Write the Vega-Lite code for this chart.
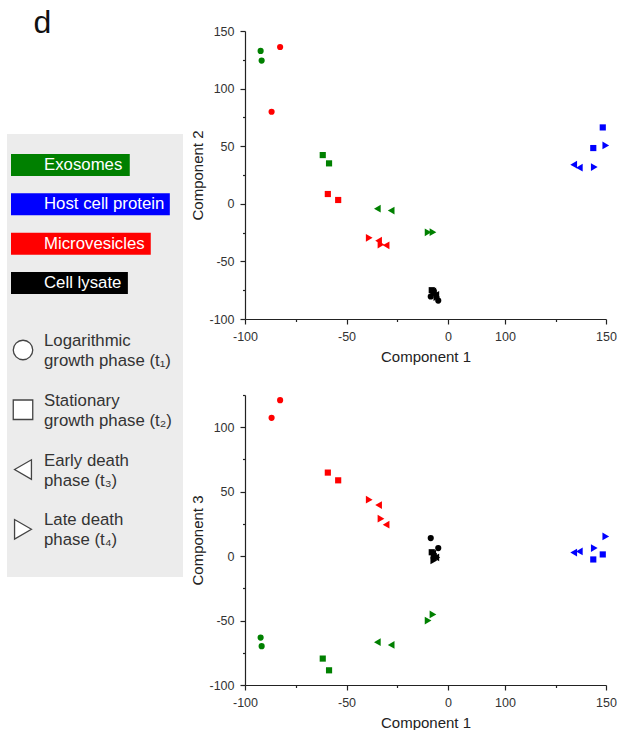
{
  "$schema": "https://vega.github.io/schema/vega-lite/v6.json",
  "background": "white",
  "padding": {"left": 7, "top": 0, "right": 0, "bottom": 0},
  "bounds": "flush",
  "spacing": 15,
  "config": {
    "view": {"stroke": null},
    "font": "Liberation Sans",
    "axis": {
      "domainColor": "#222",
      "tickColor": "#222",
      "labelColor": "#333",
      "titleColor": "#222",
      "labelFont": "Liberation Sans",
      "titleFont": "Liberation Sans",
      "labelFontSize": 12.5,
      "titleFontSize": 15,
      "titleFontWeight": "normal",
      "grid": false,
      "domainWidth": 1.2,
      "tickWidth": 1.2,
      "labelOverlap": false,
      "labelFlush": false,
      "labelPadding": 6
    }
  },
  "datasets": {
    "samples": [
      {"group": "Exosomes", "phase": "t1", "c1": -92.3, "c2": 132.7, "c3": -63.2},
      {"group": "Exosomes", "phase": "t1", "c1": -91.8, "c2": 124.3, "c3": -69.9},
      {"group": "Exosomes", "phase": "t2", "c1": -61.7, "c2": 42.3, "c3": -79.5},
      {"group": "Exosomes", "phase": "t2", "c1": -58.6, "c2": 35.1, "c3": -88.6},
      {"group": "Exosomes", "phase": "t3", "c1": -34.8, "c2": -4.2, "c3": -66.8},
      {"group": "Exosomes", "phase": "t3", "c1": -28.0, "c2": -5.9, "c3": -68.9},
      {"group": "Exosomes", "phase": "t4", "c1": -9.8, "c2": -24.7, "c3": -50.0},
      {"group": "Exosomes", "phase": "t4", "c1": -7.4, "c2": -24.6, "c3": -45.3},
      {"group": "Microvesicles", "phase": "t1", "c1": -82.7, "c2": 136.1, "c3": 121.0},
      {"group": "Microvesicles", "phase": "t1", "c1": -86.9, "c2": 79.9, "c3": 107.3},
      {"group": "Microvesicles", "phase": "t2", "c1": -59.2, "c2": 8.5, "c3": 64.8},
      {"group": "Microvesicles", "phase": "t2", "c1": -54.1, "c2": 3.3, "c3": 58.8},
      {"group": "Microvesicles", "phase": "t3", "c1": -34.2, "c2": -32.0, "c3": 39.6},
      {"group": "Microvesicles", "phase": "t3", "c1": -30.5, "c2": -36.0, "c3": 24.4},
      {"group": "Microvesicles", "phase": "t4", "c1": -38.8, "c2": -29.5, "c3": 43.8},
      {"group": "Microvesicles", "phase": "t4", "c1": -33.0, "c2": -35.4, "c3": 29.0},
      {"group": "Host cell protein", "phase": "t2", "c1": 148.4, "c2": 66.3, "c3": 1.3},
      {"group": "Host cell protein", "phase": "t2", "c1": 143.7, "c2": 48.4, "c3": -2.6},
      {"group": "Host cell protein", "phase": "t3", "c1": 134.0, "c2": 33.9, "c3": 2.8},
      {"group": "Host cell protein", "phase": "t3", "c1": 136.8, "c2": 31.4, "c3": 3.6},
      {"group": "Host cell protein", "phase": "t4", "c1": 149.9, "c2": 50.7, "c3": 15.3},
      {"group": "Host cell protein", "phase": "t4", "c1": 144.2, "c2": 31.9, "c3": 6.2},
      {"group": "Cell lysate", "phase": "t1", "c1": -8.5, "c2": -80.5, "c3": 14.0},
      {"group": "Cell lysate", "phase": "t1", "c1": -4.8, "c2": -84.0, "c3": 6.2},
      {"group": "Cell lysate", "phase": "t2", "c1": -8.0, "c2": -75.0, "c3": 3.0},
      {"group": "Cell lysate", "phase": "t2", "c1": -7.0, "c2": -77.0, "c3": 0.0},
      {"group": "Cell lysate", "phase": "t3", "c1": -7.5, "c2": -76.0, "c3": 2.0},
      {"group": "Cell lysate", "phase": "t3", "c1": -6.0, "c2": -79.0, "c3": -1.0},
      {"group": "Cell lysate", "phase": "t4", "c1": -7.0, "c2": -78.0, "c3": -3.4},
      {"group": "Cell lysate", "phase": "t4", "c1": -5.5, "c2": -81.0, "c3": -1.0}
    ],
    "colorItems": [
      {"label": "Exosomes"},
      {"label": "Host cell protein"},
      {"label": "Microvesicles"},
      {"label": "Cell lysate"}
    ],
    "phaseItems": [
      {"phase": "t1", "text": "Logarithmic\ngrowth phase (t₁)"},
      {"phase": "t2", "text": "Stationary\ngrowth phase (t₂)"},
      {"phase": "t3", "text": "Early death\nphase (t₃)"},
      {"phase": "t4", "text": "Late death\nphase (t₄)"}
    ],
    "breaks": [{"sym": "//"}],
    "panel": [{"name": "d"}]
  },
  "vconcat": [
    {
      "width": 71,
      "height": 16,
      "data": {"name": "panel"},
      "mark": {"type": "text", "fontSize": 32, "color": "#111", "align": "center", "baseline": "top", "font": "Liberation Sans"},
      "encoding": {"text": {"field": "name"}}
    },
    {
      "spacing": 7,
      "hconcat": [
        {
          "spacing": 0,
          "vconcat": [
            {
              "width": 176,
              "height": 103,
              "data": {"values": [{"sym": ""}]},
              "mark": {"type": "text"},
              "encoding": {"text": {"field": "sym"}}
            },
            {
              "width": 176,
              "height": 180,
              "view": {"fill": "#ececec", "stroke": null},
              "data": {"name": "colorItems"},
              "layer": [
                {
                  "transform": [
                    {
                      "calculate": "43 + 16.8*(0.556*length(datum.label) - 0.31*(length(datum.label)-length(replace(datum.label, regexp('[iltjf ]','g'), ''))) - 0.22*(length(datum.label)-length(replace(datum.label, regexp('r','g'), ''))) - 0.05*(length(datum.label)-length(replace(datum.label, regexp('[svxyckz]','g'), ''))) + 0.17*(length(datum.label)-length(replace(datum.label, regexp('[A-HJ-Z]','g'), ''))) + 0.28*(length(datum.label)-length(replace(datum.label, regexp('[mw]','g'), ''))))",
                      "as": "boxEnd"
                    }
                  ],
                  "mark": {"type": "rect"},
                  "encoding": {
                    "x": {"field": "boxEnd", "type": "quantitative", "scale": {"domain": [0, 176], "nice": false, "zero": false}, "axis": null},
                    "x2": {"datum": 4},
                    "color": {"field": "label", "type": "nominal", "legend": null,
                              "scale": {"domain": ["Exosomes", "Host cell protein", "Microvesicles", "Cell lysate"], "range": ["#008000", "#0000ff", "#ff0000", "#000000"]}}
                  }
                },
                {
                  "mark": {"type": "text", "align": "left", "baseline": "middle", "fontSize": 16.8, "color": "white", "font": "Liberation Sans"},
                  "encoding": {
                    "x": {"datum": 37, "type": "quantitative"},
                    "text": {"field": "label"}
                  }
                }
              ],
              "encoding": {
                "y": {"field": "label", "type": "nominal", "sort": null, "axis": null,
                      "scale": {"type": "band", "domain": ["Exosomes", "Host cell protein", "Microvesicles", "Cell lysate"], "paddingInner": 0.44, "paddingOuter": 0.51}}
              }
            },
            {
              "width": 176,
              "height": 263,
              "view": {"fill": "#ececec", "stroke": null},
              "data": {"name": "phaseItems"},
              "layer": [
                {
                  "mark": {"type": "point", "filled": true, "fill": "white", "stroke": "#444", "strokeWidth": 1.3, "opacity": 1, "size": 380},
                  "encoding": {
                    "x": {"datum": 16, "type": "quantitative", "scale": {"domain": [0, 176], "nice": false, "zero": false}, "axis": null},
                    "shape": {"field": "phase", "type": "nominal", "legend": null,
                              "scale": {"domain": ["t1", "t2", "t3", "t4"], "range": ["circle", "square", "triangle-left", "triangle-right"]}}
                  }
                },
                {
                  "mark": {"type": "text", "align": "left", "baseline": "bottom", "fontSize": 16.8, "color": "#333", "lineBreak": "\n", "lineHeight": 20, "font": "Liberation Sans"},
                  "encoding": {
                    "x": {"datum": 37, "type": "quantitative"},
                    "text": {"field": "text"}
                  }
                }
              ],
              "encoding": {
                "y": {"field": "phase", "type": "nominal", "sort": null, "axis": null,
                      "scale": {"type": "point", "domain": ["t1", "t2", "t3", "t4"], "padding": 0.7, "align": 0.43}}
              }
            }
          ]
        },
        {
          "spacing": 24,
          "vconcat": [
            {
              "width": 361,
              "height": 288,
              "data": {"name": "samples"},
              "layer": [
                {
                  "transform": [{"filter": "datum.phase === 't1' || datum.phase === 't2'"}],
                  "mark": {"type": "point", "filled": true, "opacity": 1, "size": 38}
                },
                {
                  "transform": [{"filter": "datum.phase === 't3' || datum.phase === 't4'"}],
                  "mark": {"type": "point", "filled": true, "opacity": 1, "size": 60}
                },
                {
                  "data": {"name": "breaks"},
                  "mark": {"type": "text", "fontSize": 15, "color": "#222", "align": "center", "baseline": "middle"},
                  "encoding": {
                    "x": {"datum": 93, "type": "quantitative"},
                    "y": {"datum": -100, "type": "quantitative"},
                    "text": {"field": "sym"},
                    "color": null,
                    "shape": null
                  }
                }
              ],
              "encoding": {
                "x": {"field": "c1", "type": "quantitative",
                      "scale": {"domain": [-100, 0, 100, 150], "range": [0, 203, 260, 361], "nice": false, "zero": false},
                      "axis": {"title": "Component 1", "values": [-100, -75, -50, -25, 0, 100, 125, 150],
                               "labelExpr": "datum.value % 50 === 0 ? '' + datum.value : ''",
                               "tickSize": {"condition": {"test": "datum.value % 50 === 0", "value": 5}, "value": 2.5},
                               "titlePadding": 7}},
                "y": {"field": "c2", "type": "quantitative",
                      "scale": {"domain": [-100, 150], "nice": false, "zero": false},
                      "axis": {"title": "Component 2", "values": [-100, -75, -50, -25, 0, 25, 50, 75, 100, 125, 150],
                               "labelExpr": "datum.value % 50 === 0 ? '' + datum.value : ''",
                               "tickSize": {"condition": {"test": "datum.value % 50 === 0", "value": 5}, "value": 2.5},
                               "titlePadding": 3}},
                "color": {"field": "group", "type": "nominal", "legend": null,
                          "scale": {"domain": ["Exosomes", "Host cell protein", "Microvesicles", "Cell lysate"], "range": ["#008000", "#0000ff", "#ff0000", "#000000"]}},
                "shape": {"field": "phase", "type": "nominal", "legend": null,
                          "scale": {"domain": ["t1", "t2", "t3", "t4"], "range": ["circle", "square", "triangle-left", "triangle-right"]}}
              }
            },
            {
              "width": 361,
              "height": 290,
              "data": {"name": "samples"},
              "layer": [
                {
                  "transform": [{"filter": "datum.phase === 't1' || datum.phase === 't2'"}],
                  "mark": {"type": "point", "filled": true, "opacity": 1, "size": 38}
                },
                {
                  "transform": [{"filter": "datum.phase === 't3' || datum.phase === 't4'"}],
                  "mark": {"type": "point", "filled": true, "opacity": 1, "size": 60}
                },
                {
                  "data": {"name": "breaks"},
                  "mark": {"type": "text", "fontSize": 15, "color": "#222", "align": "center", "baseline": "middle"},
                  "encoding": {
                    "x": {"datum": 93, "type": "quantitative"},
                    "y": {"datum": -100, "type": "quantitative"},
                    "text": {"field": "sym"},
                    "color": null,
                    "shape": null
                  }
                }
              ],
              "encoding": {
                "x": {"field": "c1", "type": "quantitative",
                      "scale": {"domain": [-100, 0, 100, 150], "range": [0, 203, 260, 361], "nice": false, "zero": false},
                      "axis": {"title": "Component 1", "values": [-100, -75, -50, -25, 0, 100, 125, 150],
                               "labelExpr": "datum.value % 50 === 0 ? '' + datum.value : ''",
                               "tickSize": {"condition": {"test": "datum.value % 50 === 0", "value": 5}, "value": 2.5},
                               "titlePadding": 7}},
                "y": {"field": "c3", "type": "quantitative",
                      "scale": {"domain": [-100, 125], "nice": false, "zero": false},
                      "axis": {"title": "Component 3", "values": [-100, -75, -50, -25, 0, 25, 50, 75, 100, 125],
                               "labelExpr": "datum.value % 50 === 0 ? '' + datum.value : ''",
                               "tickSize": {"condition": {"test": "datum.value % 50 === 0", "value": 5}, "value": 2.5},
                               "titlePadding": 3}},
                "color": {"field": "group", "type": "nominal", "legend": null,
                          "scale": {"domain": ["Exosomes", "Host cell protein", "Microvesicles", "Cell lysate"], "range": ["#008000", "#0000ff", "#ff0000", "#000000"]}},
                "shape": {"field": "phase", "type": "nominal", "legend": null,
                          "scale": {"domain": ["t1", "t2", "t3", "t4"], "range": ["circle", "square", "triangle-left", "triangle-right"]}}
              }
            }
          ]
        }
      ]
    }
  ]
}
